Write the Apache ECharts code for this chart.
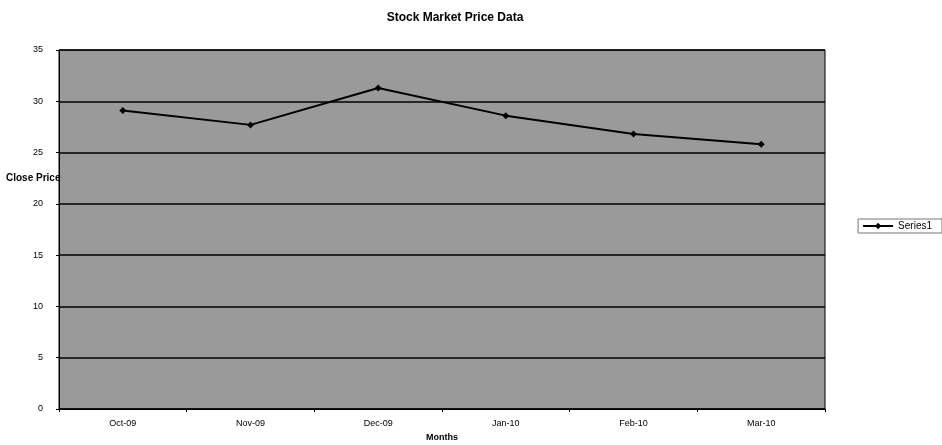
<!DOCTYPE html>
<html><head><meta charset="utf-8">
<script src="https://cdn.jsdelivr.net/npm/echarts@6/dist/echarts.min.js"></script>
<style>html,body{margin:0;padding:0;background:#fff}#c{width:942px;height:445px}</style>
</head><body><div id="c"></div>
<script>
const categories = ['Oct-09','Nov-09','Dec-09','Jan-10','Feb-10','Mar-10'];
const series1 = [29.1, 27.7, 31.3, 28.6, 26.8, 25.8];
const yTicks = [0,5,10,15,20,25,30,35];

const chart = echarts.init(document.getElementById('c'));
const F = 'Liberation Sans, Arial, sans-serif';
chart.setOption({
  animation: false,
  backgroundColor: '#fff',
  title: {text: 'Stock Market Price Data', left: 450, textAlign: 'center', top: 7,
    textStyle: {fontFamily: F, fontSize: 12, fontWeight: 'bold', color: '#000'}},
  legend: {right: 0, top: 219, orient: 'vertical', data: ['Series1'],
    borderColor: '#777', borderWidth: 1, padding: [2,10,2,4], itemWidth: 30, itemHeight: 8, itemGap: 4,
    textStyle: {fontFamily: F, fontSize: 10, color: '#000'}},
  grid: {left: 59, right: 117, top: 50, bottom: 36, outerBoundsMode: 'none', containLabel: false,
    show: true, backgroundColor: '#9a9a9a', borderColor: '#000', borderWidth: 1},
  xAxis: {type: 'category', data: categories, boundaryGap: true,
    name: 'Months', nameLocation: 'middle', nameGap: 24,
    nameTextStyle: {fontFamily: F, fontSize: 9, fontWeight: 'bold', color: '#000'},
    axisLine: {lineStyle: {color: '#000'}},
    axisTick: {show: true, length: 3, lineStyle: {color: '#000'}},
    axisLabel: {fontFamily: F, fontSize: 9, color: '#000', margin: 10}},
  yAxis: {type: 'value', min: 0, max: 35, interval: 5,
    axisLine: {show: true, lineStyle: {color: '#000'}},
    axisTick: {show: true, length: 3, lineStyle: {color: '#000'}},
    axisLabel: {fontFamily: F, fontSize: 9, color: '#000', margin: 16, formatter: v => yTicks.includes(v) ? String(v) : ''},
    splitLine: {show: true, lineStyle: {color: '#000', width: 1.5}}},
  graphic: [{type: 'text', left: 6, top: 173, z: 10,
    style: {text: 'Close Price', font: 'bold 10px ' + F, fill: '#000'}}],
  series: [{name: 'Series1', type: 'line', data: series1, symbol: 'diamond', symbolSize: 7,
    lineStyle: {color: '#000', width: 2}, itemStyle: {color: '#000'}}]
});
</script></body></html>
